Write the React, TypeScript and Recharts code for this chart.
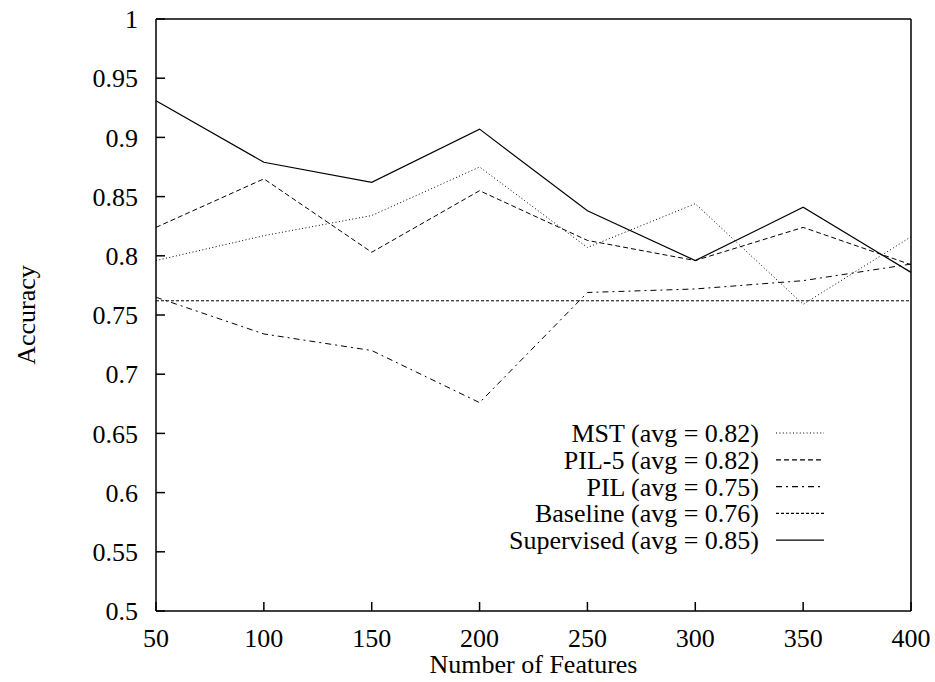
import React from 'react';
import { LineChart, Line, XAxis, YAxis, Legend } from 'recharts';

const FEATURES = [50, 100, 150, 200, 250, 300, 350, 400];
const MST = [0.796, 0.817, 0.834, 0.875, 0.807, 0.844, 0.759, 0.816];
const PIL5 = [0.824, 0.865, 0.803, 0.855, 0.813, 0.796, 0.824, 0.7925];
const PIL = [0.765, 0.734, 0.72, 0.676, 0.769, 0.772, 0.779, 0.793];
const BASELINE = [0.762, 0.762, 0.762, 0.762, 0.762, 0.762, 0.762, 0.762];
const SUPERVISED = [0.931, 0.879, 0.862, 0.907, 0.838, 0.796, 0.841, 0.786];

const X_TICKS = [50, 100, 150, 200, 250, 300, 350, 400];
const Y_TICKS = [0.5, 0.55, 0.6, 0.65, 0.7, 0.75, 0.8, 0.85, 0.9, 0.95, 1];

const SERIES = [
  { key: 'mst', name: 'MST (avg = 0.82)', dash: '1 2.4' },
  { key: 'pil5', name: 'PIL-5 (avg = 0.82)', dash: '5 3' },
  { key: 'pil', name: 'PIL (avg = 0.75)', dash: '6 4 2 4' },
  { key: 'baseline', name: 'Baseline (avg = 0.76)', dash: '3 2' },
  { key: 'supervised', name: 'Supervised (avg = 0.85)', dash: undefined },
];

const data = FEATURES.map((f, i) => ({
  features: f,
  mst: MST[i],
  pil5: PIL5[i],
  pil: PIL[i],
  baseline: BASELINE[i],
  supervised: SUPERVISED[i],
}));

const FONT = "'Liberation Serif', 'Times New Roman', serif";
const tickStyle = { fill: '#000', fontSize: 26, fontFamily: FONT };
const axisLine = { stroke: '#000', strokeWidth: 1.5 };
const tickLine = { stroke: '#000', strokeWidth: 1.5 };
const fmtY = (v: number) => String(+v.toFixed(2));

const order = (name: string) => SERIES.findIndex((s) => s.name === name);

// legend drawn in gnuplot style: text right-aligned, sample line to its right
const renderLegend = (props: any) => {
  const payload = [...(props.payload || [])].sort((a: any, b: any) => order(a.value) - order(b.value));
  return (
    <svg width={360} height={140} style={{ fontFamily: FONT }}>
      {payload.map((entry: any, i: number) => {
        const s = SERIES[order(entry.value)];
        const cy = 15 + i * 26.8;
        return (
          <g key={entry.value}>
            <text x={279} y={cy + 9} textAnchor="end" fontSize={26} fontFamily={FONT} fill="#000">
              {entry.value}
            </text>
            <line x1={296} x2={344} y1={cy} y2={cy} stroke="#000" strokeWidth={1.2} strokeDasharray={s?.dash} />
          </g>
        );
      })}
    </svg>
  );
};

const App: React.FC = () => {
  return (
    <div style={{ position: 'absolute', left: 0, top: 0, width: 935, height: 682, background: '#fff', fontFamily: FONT }}>
      <LineChart width={935} height={682} data={data} margin={{ top: 0, right: 0, bottom: 0, left: 0 }} style={{ fontFamily: FONT }}>
        <XAxis
          dataKey="features"
          type="number"
          domain={[50, 400]}
          ticks={X_TICKS}
          height={71}
          tickSize={-9}
          tickMargin={27}
          tick={tickStyle}
          axisLine={axisLine}
          tickLine={tickLine}
          label={{ value: 'Number of Features', position: 'insideBottom', offset: 9, fill: '#000', fontSize: 26, fontFamily: FONT }}
        />
        <XAxis
          xAxisId="top"
          orientation="top"
          dataKey="features"
          type="number"
          domain={[50, 400]}
          ticks={X_TICKS}
          height={19}
          tickSize={-9}
          tick={false}
          axisLine={axisLine}
          tickLine={tickLine}
        />
        <YAxis
          type="number"
          domain={[0.5, 1]}
          ticks={Y_TICKS}
          width={156}
          tickSize={-9}
          tickMargin={27}
          tickFormatter={fmtY}
          tick={tickStyle}
          axisLine={axisLine}
          tickLine={tickLine}
          label={{ value: 'Accuracy', angle: -90, position: 'insideLeft', offset: 26, textAnchor: 'middle', fill: '#000', fontSize: 26, fontFamily: FONT }}
        />
        <YAxis
          yAxisId="right"
          orientation="right"
          type="number"
          domain={[0.5, 1]}
          ticks={Y_TICKS}
          width={24}
          tickSize={-9}
          tick={false}
          axisLine={axisLine}
          tickLine={tickLine}
        />
        <Legend
          layout="vertical"
          align="center"
          verticalAlign="middle"
          content={renderLegend}
          wrapperStyle={{ left: 480, top: 418, width: 360, height: 140 }}
        />
        {SERIES.map((s) => (
          <Line
            key={s.key}
            dataKey={s.key}
            name={s.name}
            type="linear"
            stroke="#000"
            strokeWidth={s.key === 'supervised' ? 1.2 : 1}
            strokeDasharray={s.dash}
            dot={false}
            activeDot={false}
            isAnimationActive={false}
          />
        ))}
      </LineChart>
    </div>
  );
};

export default App;
